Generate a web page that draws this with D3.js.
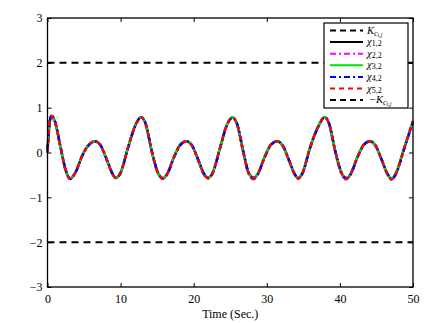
<!DOCTYPE html>
<html>
<head>
<meta charset="utf-8">
<script src="https://cdn.jsdelivr.net/npm/d3@7"></script>
<style>
  body { margin: 0; background: #fff; }
  text { font-family: "Liberation Serif", "DejaVu Serif", serif; }
</style>
</head>
<body>
<svg id="chart" width="446" height="323"></svg>
<script>
// Time samples (s) shared by all five trajectories
const times = [0, 0.25, 0.5, 1.0, 1.8, 2.5, 3.1, 3.8, 4.8, 5.7, 6.5, 7.2, 8.2, 8.9, 9.4, 10.0, 11.0, 12.0, 12.8, 13.4,
  14.3, 15.1, 15.8, 16.4, 17.3, 18.2, 19.0, 19.7, 20.7, 21.4, 22.0, 22.6, 23.6, 24.5, 25.3, 25.9, 26.8, 27.5, 28.2, 28.8,
  29.7, 30.6, 31.4, 32.1, 33.1, 33.8, 34.3, 34.9, 35.9, 37.1, 37.9, 38.5, 39.4, 40.2, 40.9, 41.5, 42.4, 43.3, 44.1, 44.8,
  45.8, 46.5, 47.1, 47.7, 48.8, 50];

const chi12 = [0.0, 0.6, 0.82, 0.7, 0.1, -0.4, -0.58, -0.45, -0.05, 0.18, 0.25, 0.17, -0.2, -0.48, -0.56, -0.45, 0.1, 0.6, 0.79, 0.65,
  0.0, -0.45, -0.57, -0.47, -0.1, 0.18, 0.25, 0.17, -0.2, -0.48, -0.56, -0.45, 0.1, 0.6, 0.78, 0.65, 0.0, -0.45, -0.56, -0.47,
  -0.1, 0.18, 0.25, 0.17, -0.2, -0.48, -0.57, -0.45, 0.1, 0.6, 0.79, 0.65, 0.0, -0.45, -0.57, -0.47, -0.1, 0.18, 0.25, 0.17,
  -0.2, -0.48, -0.58, -0.45, 0.1, 0.7];
const chi22 = [0.05, 0.62, 0.8, 0.68, 0.08, -0.42, -0.59, -0.46, -0.05, 0.18, 0.25, 0.17, -0.21, -0.49, -0.57, -0.45, 0.1, 0.6, 0.79, 0.64,
  -0.02, -0.47, -0.59, -0.47, -0.1, 0.18, 0.25, 0.16, -0.22, -0.5, -0.58, -0.45, 0.1, 0.6, 0.78, 0.64, -0.02, -0.48, -0.6, -0.47,
  -0.1, 0.18, 0.25, 0.16, -0.22, -0.5, -0.58, -0.45, 0.1, 0.6, 0.79, 0.64, -0.02, -0.48, -0.6, -0.47, -0.1, 0.18, 0.25, 0.16,
  -0.21, -0.49, -0.59, -0.46, 0.09, 0.68];
const chi32 = [0.1, 0.64, 0.81, 0.69, 0.1, -0.41, -0.58, -0.45, -0.04, 0.18, 0.25, 0.17, -0.2, -0.48, -0.57, -0.44, 0.11, 0.61, 0.79, 0.65,
  0.0, -0.45, -0.57, -0.46, -0.09, 0.19, 0.25, 0.17, -0.2, -0.48, -0.57, -0.44, 0.11, 0.61, 0.78, 0.65, 0.0, -0.45, -0.57, -0.46,
  -0.09, 0.19, 0.25, 0.17, -0.2, -0.48, -0.57, -0.44, 0.11, 0.61, 0.79, 0.65, 0.0, -0.45, -0.58, -0.46, -0.09, 0.19, 0.25, 0.17,
  -0.2, -0.48, -0.58, -0.44, 0.11, 0.7];
const chi42 = [0.05, 0.58, 0.83, 0.71, 0.12, -0.39, -0.59, -0.46, -0.06, 0.17, 0.25, 0.18, -0.19, -0.47, -0.57, -0.46, 0.09, 0.59, 0.79, 0.66,
  0.02, -0.44, -0.58, -0.48, -0.11, 0.17, 0.25, 0.18, -0.19, -0.47, -0.57, -0.46, 0.09, 0.59, 0.78, 0.66, 0.02, -0.44, -0.58, -0.48,
  -0.11, 0.17, 0.25, 0.18, -0.19, -0.47, -0.58, -0.46, 0.09, 0.59, 0.79, 0.66, 0.02, -0.44, -0.58, -0.48, -0.11, 0.17, 0.25, 0.18,
  -0.19, -0.47, -0.61, -0.47, 0.08, 0.69];
const chi52 = [0.0, 0.6, 0.82, 0.7, 0.1, -0.4, -0.59, -0.45, -0.05, 0.18, 0.25, 0.17, -0.2, -0.48, -0.57, -0.45, 0.1, 0.6, 0.79, 0.65,
  0.0, -0.45, -0.58, -0.47, -0.1, 0.18, 0.25, 0.17, -0.2, -0.48, -0.57, -0.45, 0.1, 0.6, 0.78, 0.65, 0.0, -0.45, -0.58, -0.47,
  -0.1, 0.18, 0.25, 0.17, -0.2, -0.48, -0.58, -0.45, 0.1, 0.6, 0.79, 0.65, 0.0, -0.45, -0.59, -0.47, -0.1, 0.18, 0.25, 0.17,
  -0.2, -0.48, -0.6, -0.45, 0.1, 0.7];

const bound = 2;             // K_c bound, drawn at +bound and -bound
const xTicks = [0, 10, 20, 30, 40, 50];
const yTicks = [-3, -2, -1, 0, 1, 2, 3];

const series = [
  { name: "1,2", values: chi12, color: "#000000", dash: null },
  { name: "2,2", values: chi22, color: "#ff00ff", dash: "6,3,2,3" },
  { name: "3,2", values: chi32, color: "#00e000", dash: null },
  { name: "4,2", values: chi42, color: "#0000ff", dash: "6,3,2,3" },
  { name: "5,2", values: chi52, color: "#ff0000", dash: "5,4" }
];

const svg = d3.select("#chart");
const margin = { top: 18, right: 33, bottom: 36, left: 47.5 };
const width = 446 - margin.left - margin.right;
const height = 323 - margin.top - margin.bottom;

const g = svg.append("g").attr("transform", `translate(${margin.left},${margin.top})`);

const x = d3.scaleLinear().domain([0, 50]).range([0, width]);
const y = d3.scaleLinear().domain([-3, 3]).range([height, 0]);

// Bound lines
[bound, -bound].forEach(b => {
  g.append("line")
    .attr("x1", x(0)).attr("x2", x(50))
    .attr("y1", y(b)).attr("y2", y(b))
    .attr("stroke", "#000").attr("stroke-width", 2)
    .attr("stroke-dasharray", "7,5");
});

// Trajectories
const line = d3.line()
  .x((d, i) => x(times[i]))
  .y(d => y(d))
  .curve(d3.curveMonotoneX);

series.forEach(s => {
  g.append("path")
    .datum(s.values)
    .attr("d", line)
    .attr("fill", "none")
    .attr("stroke", s.color)
    .attr("stroke-width", 2.4)
    .attr("stroke-dasharray", s.dash);
});

// Axes with inward ticks on all sides
const axB = g.append("g").attr("transform", `translate(0,${height})`)
  .call(d3.axisBottom(x).tickValues(xTicks).tickSizeInner(-4).tickSizeOuter(0).tickPadding(7));
const axT = g.append("g")
  .call(d3.axisTop(x).tickValues(xTicks).tickSizeInner(-4).tickSizeOuter(0).tickFormat(""));
const axL = g.append("g")
  .call(d3.axisLeft(y).tickValues(yTicks).tickSizeInner(-4).tickSizeOuter(0).tickPadding(5)
    .tickFormat(d => d < 0 ? "\u2212" + Math.abs(d) : d));
const axR = g.append("g").attr("transform", `translate(${width},0)`)
  .call(d3.axisRight(y).tickValues(yTicks).tickSizeInner(-4).tickSizeOuter(0).tickFormat(""));

[axB, axT, axL, axR].forEach(a => {
  a.select(".domain").remove();
  a.selectAll("line").attr("stroke", "#000").attr("stroke-width", 1);
  a.selectAll("text").attr("font-size", 12).attr("fill", "#000")
    .style("font-family", "Liberation Serif, serif");
});

g.append("rect")
  .attr("width", width).attr("height", height)
  .attr("fill", "none").attr("stroke", "#000").attr("stroke-width", 1.3);

g.append("text")
  .attr("x", width / 2).attr("y", height + 31)
  .attr("text-anchor", "middle").attr("font-size", 12)
  .text("Time (Sec.)");

// Legend
const lg = g.append("g").attr("transform", `translate(${324 - margin.left},${23 - margin.top})`);
lg.append("rect").attr("width", 84).attr("height", 85)
  .attr("fill", "#fff").attr("stroke", "#000").attr("stroke-width", 1.2);

const rowY = i => 7.5 + i * 11.6;
const lx1 = 6, lx2 = 39, tx = 43;

function kLabel(t, i, neg) {
  const txt = t.append("text").attr("x", neg ? tx + 3 : tx).attr("y", rowY(i) + 3).attr("font-size", 10.5);
  if (neg) txt.append("tspan").text("\u2212");
  txt.append("tspan").attr("font-style", "italic").text("K");
  txt.append("tspan").attr("font-style", "italic").attr("font-size", 8).attr("dy", 2).text("c");
  txt.append("tspan").attr("font-style", "italic").attr("font-size", 6).attr("dy", 1).text("i,j");
}

lg.append("line").attr("x1", lx1).attr("x2", lx2).attr("y1", rowY(0)).attr("y2", rowY(0))
  .attr("stroke", "#000").attr("stroke-width", 2).attr("stroke-dasharray", "6,4");
kLabel(lg, 0, false);

series.forEach((s, k) => {
  const i = k + 1;
  lg.append("line").attr("x1", lx1).attr("x2", lx2).attr("y1", rowY(i)).attr("y2", rowY(i))
    .attr("stroke", s.color).attr("stroke-width", 2).attr("stroke-dasharray", s.dash);
  const t = lg.append("text").attr("x", tx).attr("y", rowY(i) + 3).attr("font-size", 10.5);
  t.append("tspan").attr("font-style", "italic").text("\u03C7");
  t.append("tspan").attr("font-size", 8).attr("dy", 1).text(s.name);
});

lg.append("line").attr("x1", lx1).attr("x2", lx2).attr("y1", rowY(6)).attr("y2", rowY(6))
  .attr("stroke", "#000").attr("stroke-width", 2).attr("stroke-dasharray", "6,4");
kLabel(lg, 6, true);
</script>
</body>
</html>
